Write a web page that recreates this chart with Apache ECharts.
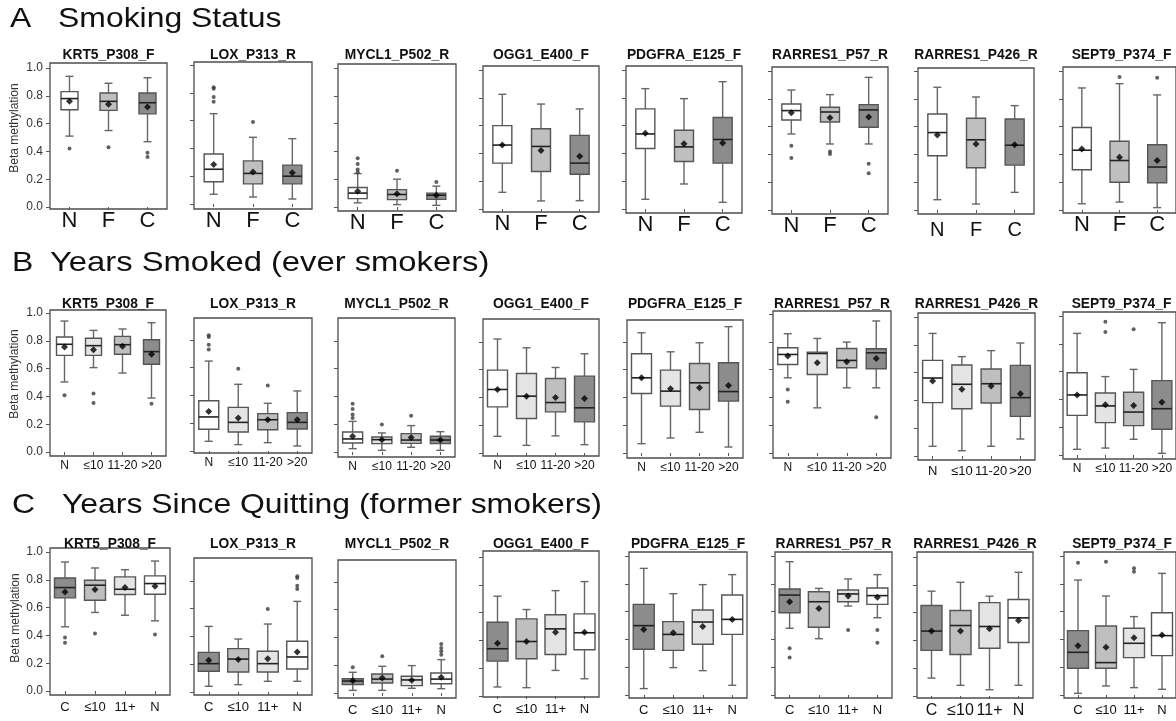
<!DOCTYPE html>
<html><head><meta charset="utf-8">
<script src="https://cdn.jsdelivr.net/npm/echarts@6/dist/echarts.min.js"></script>
<style>html,body{margin:0;padding:0;background:#fff}#c{width:1176px;height:721px}</style>
</head><body><div id="c"></div>
<script>
// ---------------- DATA ----------------
const genes = ['KRT5_P308_F','LOX_P313_R','MYCL1_P502_R','OGG1_E400_F','PDGFRA_E125_F','RARRES1_P57_R','RARRES1_P426_R','SEPT9_P374_F'];
const yTicks = [0, 0.2, 0.4, 0.6, 0.8, 1.0];

// A: Smoking Status
const catsA = ['N','F','C'];
// per gene, per category: [lower whisker, Q1, median, Q3, upper whisker]
const statsA = [
  [[0.51,0.70,0.78,0.83,0.94],[0.55,0.695,0.76,0.82,0.89],[0.47,0.67,0.75,0.82,0.93]],
  [[0.07,0.16,0.25,0.36,0.65],[0.05,0.145,0.22,0.31,0.48],[0.036,0.145,0.20,0.28,0.47]],
  [[0.03,0.06,0.10,0.14,0.24],[0.017,0.053,0.09,0.125,0.20],[0.012,0.055,0.085,0.10,0.15]],
  [[0.12,0.33,0.46,0.60,0.825],[0.058,0.27,0.45,0.577,0.755],[0.06,0.25,0.33,0.53,0.72]],
  [[0.07,0.435,0.54,0.72,0.866],[0.18,0.342,0.447,0.567,0.794],[0.048,0.33,0.50,0.658,0.916]],
  [[0.547,0.647,0.715,0.763,0.863],[0.475,0.633,0.705,0.739,0.83],[0.475,0.595,0.72,0.758,0.954]],
  [[0.074,0.39,0.557,0.691,0.883],[0.043,0.304,0.505,0.66,0.813],[0.127,0.323,0.466,0.655,0.751]],
  [[0.045,0.29,0.43,0.593,0.878],[0.057,0.20,0.356,0.495,0.909],[0.017,0.196,0.309,0.469,0.828]]
];
const meansA = [
  [0.76,0.74,0.72],[0.285,0.23,0.225],[0.113,0.096,0.084],[0.46,0.42,0.38],
  [0.545,0.469,0.474],[0.70,0.664,0.669],[0.54,0.474,0.469],[0.438,0.38,0.356]
];
const outliersA = [
  [[0.42],[0.43],[0.39,0.36]],
  [[0.84,0.83,0.77,0.735],[0.59],[]],
  [[0.35,0.31,0.27,0.25],[0.26],[0.18]],
  [[],[],[]],
  [[],[],[]],
  [[0.463,0.374],[0.42,0.403],[0.333,0.264]],
  [[],[],[]],
  [[],[0.957],[0.952]]
];

// B: Years Smoked (ever smokers)
const catsB = ['N','≤10','11-20','>20'];
const statsB = [
  [[0.504,0.695,0.775,0.827,0.942],[0.607,0.695,0.765,0.818,0.875],[0.568,0.703,0.772,0.832,0.885],[0.388,0.631,0.722,0.808,0.93]],
  [[0.07,0.156,0.245,0.362,0.647],[0.046,0.137,0.206,0.314,0.48],[0.06,0.153,0.225,0.269,0.343],[0.036,0.158,0.206,0.276,0.432]],
  [[0.024,0.065,0.094,0.144,0.22],[0.012,0.06,0.089,0.108,0.137],[0.034,0.062,0.086,0.132,0.19],[0.012,0.06,0.086,0.113,0.146]],
  [[0.12,0.332,0.457,0.596,0.82],[0.055,0.248,0.409,0.572,0.757],[0.123,0.296,0.363,0.536,0.615],[0.06,0.224,0.325,0.553,0.714]],
  [[0.067,0.428,0.541,0.714,0.865],[0.108,0.337,0.445,0.596,0.728],[0.149,0.313,0.505,0.644,0.793],[0.043,0.373,0.442,0.649,0.909]],
  [[0.541,0.637,0.709,0.757,0.858],[0.325,0.565,0.716,0.726,0.824],[0.469,0.613,0.666,0.752,0.798],[0.469,0.606,0.721,0.75,0.95]],
  [[0.07,0.384,0.561,0.688,0.882],[0.038,0.34,0.516,0.655,0.715],[0.07,0.381,0.52,0.626,0.758],[0.122,0.285,0.42,0.652,0.813]],
  [[0.041,0.285,0.432,0.592,0.875],[0.05,0.233,0.353,0.446,0.564],[0.113,0.211,0.309,0.451,0.616],[0.012,0.185,0.333,0.535,0.952]]
];
const meansB = [
  [0.755,0.736,0.76,0.703],[0.285,0.237,0.225,0.225],[0.113,0.089,0.105,0.086],[0.457,0.409,0.40,0.392],
  [0.541,0.462,0.469,0.486],[0.697,0.649,0.656,0.68],[0.54,0.48,0.504,0.448],[0.432,0.362,0.357,0.379]
];
const outliersB = [
  [[0.408],[0.42,0.353],[],[0.348]],
  [[0.832,0.82,0.765,0.731],[0.592],[0.472],[]],
  [[0.348,0.31,0.27,0.245],[0.197],[0.26],[]],
  [[],[],[],[]],
  [[],[],[],[]],
  [[0.457,0.368],[],[],[0.257]],
  [[],[],[],[]],
  [[],[0.959,0.885],[0.904],[]]
];

// C: Years Since Quitting (former smokers)
const catsC = ['C','≤10','11+','N'];
const statsC = [
  [[0.462,0.67,0.744,0.813,0.928],[0.565,0.653,0.761,0.797,0.885],[0.545,0.694,0.732,0.821,0.873],[0.505,0.696,0.773,0.828,0.935]],
  [[0.041,0.149,0.204,0.285,0.472],[0.053,0.144,0.237,0.312,0.381],[0.077,0.144,0.204,0.293,0.489],[0.077,0.165,0.252,0.365,0.652]],
  [[0.019,0.06,0.086,0.103,0.149],[0.019,0.072,0.10,0.137,0.192],[0.034,0.053,0.094,0.12,0.197],[0.031,0.067,0.10,0.144,0.24]],
  [[0.065,0.251,0.34,0.531,0.718],[0.06,0.268,0.392,0.555,0.622],[0.184,0.299,0.483,0.584,0.758],[0.124,0.333,0.455,0.591,0.823]],
  [[0.046,0.329,0.499,0.652,0.911],[0.197,0.321,0.436,0.528,0.729],[0.175,0.365,0.525,0.612,0.794],[0.07,0.436,0.544,0.719,0.866]],
  [[0.48,0.592,0.719,0.763,0.959],[0.405,0.487,0.671,0.743,0.767],[0.64,0.671,0.727,0.755,0.835],[0.556,0.652,0.715,0.77,0.866]],
  [[0.129,0.328,0.467,0.651,0.754],[0.077,0.299,0.507,0.615,0.818],[0.045,0.344,0.50,0.672,0.718],[0.077,0.385,0.562,0.694,0.89]],
  [[0.012,0.192,0.307,0.463,0.827],[0.065,0.192,0.233,0.496,0.712],[0.053,0.269,0.372,0.48,0.564],[0.041,0.283,0.427,0.592,0.875]]
];
const meansC = [
  [0.713,0.73,0.744,0.754],[0.228,0.233,0.24,0.288],[0.089,0.108,0.091,0.113],[0.38,0.392,0.459,0.459],
  [0.472,0.448,0.492,0.544],[0.671,0.623,0.712,0.703],[0.467,0.467,0.483,0.543],[0.355,0.343,0.412,0.432]
];
const outliersC = [
  [[0.385,0.347],[0.414],[],[0.407]],
  [[],[],[0.597],[0.832,0.82,0.765,0.741]],
  [[0.185],[0.264],[],[0.353,0.324,0.30,0.276]],
  [[],[],[],[]],
  [[],[],[],[]],
  [[0.336,0.269],[],[0.468],[0.468,0.376]],
  [[],[],[],[]],
  [[0.952],[0.959],[0.911,0.887],[]]
];

// ---------------- LAYOUT / STYLE ----------------
const FONT = '"Liberation Sans", Arial, sans-serif';
const UNIT = 139; // px per 1.0 of beta
const rows = [
  { letter:'A', heading:'Smoking Status', letterX:10, headX:58, headY:19, headScale:1.14, titleY:55, nameY:128, nameX:15,
    cats:catsA, stats:statsA, means:meansA, outs:outliersA,
    fills:['#ffffff','#bfbfbf','#8c8c8c'],
    frames:[[50,167,63,209],[194,312,62,209],[338,456,64,211],[483,599,66,212],[626,742,66,213],[772,888,67,214],[918,1034,68,214],[1063,1180,67,213]],
    zeros:[207,204,207,209,209,210,210,210],
    lab:{size:22, margin:1}, labWide:{size:20, margin:6}, boxW:19, boxW0:17 },
  { letter:'B', heading:'Years Smoked (ever smokers)', letterX:12, headX:50, headY:263, headScale:1.17, titleY:304, nameY:374, nameX:15,
    cats:catsB, stats:statsB, means:meansB, outs:outliersB,
    fills:['#ffffff','#e4e4e4','#bfbfbf','#8c8c8c'],
    frames:[[50,166,310,456],[194,312,318,453],[338,455,318,457],[483,599,319,456],[627,743,320,458],[773,891,311,458],[918,1035,313,460],[1063,1180,312,459]],
    zeros:[452,451,452,453,453,453,456,455],
    lab:{size:12, margin:4}, labWide:{size:13, margin:5}, boxW:20, boxW0:16 },
  { letter:'C', heading:'Years Since Quitting (former smokers)', letterX:12, headX:62, headY:505, headScale:1.14, titleY:544, nameY:618, nameX:16,
    cats:catsC, stats:statsC, means:meansC, outs:outliersC,
    fills:['#8c8c8c','#bfbfbf','#e4e4e4','#ffffff'],
    frames:[[50,170,548,695],[194,312,558,695],[338,456,560,698],[483,599,551,697],[629,747,552,698],[775,892,552,698],[917,1033,552,698],[1064,1180,552,698]],
    zeros:[691,692,693,696,695,695,696,695],
    lab:{size:13, margin:6}, labWide:{size:16, margin:5}, boxW:21, boxW0:21 }
];

function makeRender(fills, boxW){
  return function(params, api){
    const k = params.dataIndex;
    const lo = api.coord([k, api.value(1)]);
    const q1 = api.coord([k, api.value(2)]);
    const md = api.coord([k, api.value(3)]);
    const q3 = api.coord([k, api.value(4)]);
    const hi = api.coord([k, api.value(5)]);
    const x = lo[0], hw = boxW/2, cw = 4;
    const wl = {stroke:'#666', lineWidth:1.4};
    return {type:'group', children:[
      {type:'line', shape:{x1:x,y1:hi[1],x2:x,y2:q3[1]}, style:wl},
      {type:'line', shape:{x1:x,y1:q1[1],x2:x,y2:lo[1]}, style:wl},
      {type:'line', shape:{x1:x-cw,y1:hi[1],x2:x+cw,y2:hi[1]}, style:wl},
      {type:'line', shape:{x1:x-cw,y1:lo[1],x2:x+cw,y2:lo[1]}, style:wl},
      {type:'rect', shape:{x:x-hw,y:q3[1],width:boxW,height:q1[1]-q3[1]}, style:{fill:fills[k], stroke:'#555', lineWidth:1.4}},
      {type:'line', shape:{x1:x-hw,y1:md[1],x2:x+hw,y2:md[1]}, style:{stroke:'#222', lineWidth:1.6}}
    ]};
  };
}

const grid = [], xAxis = [], yAxis = [], series = [], graphic = [];
let gi = 0;
rows.forEach((row) => {
  graphic.push({type:'text', x:row.letterX, y:row.headY, scaleX:1.14,
    style:{text:row.letter, font:'28px '+FONT, fill:'#111', textVerticalAlign:'middle'}});
  graphic.push({type:'text', x:row.headX, y:row.headY, scaleX:row.headScale,
    style:{text:row.heading, font:'28px '+FONT, fill:'#111', textVerticalAlign:'middle'}});
  graphic.push({type:'text', x:row.nameX, y:row.nameY, rotation:Math.PI/2,
    style:{text:'Beta methylation', font:'12px '+FONT, fill:'#333', textAlign:'center', textVerticalAlign:'middle'}});
  genes.forEach((g, p) => {
    const [x0, x1, top, bottom] = row.frames[p];
    const y0 = row.zeros[p], y1 = y0 - UNIT;
    graphic.push({type:'text', x:(x0+x1)/2, y:row.titleY,
      style:{text:g, font:'bold 13.8px '+FONT, fill:'#111', textAlign:'center', textVerticalAlign:'middle'}});
    grid.push({left:x0, top:top, width:x1-x0, height:bottom-top, show:true,
      borderColor:'#4d4d4d', borderWidth:1.3, backgroundColor:'#fff', containLabel:false});
    const lab = (p === 6) ? row.labWide : row.lab;
    xAxis.push({type:'category', gridIndex:gi, data:row.cats, boundaryGap:true,
      axisLine:{show:false}, splitLine:{show:false},
      axisTick:{show:true, alignWithLabel:true, length:3, lineStyle:{color:'#555', width:1}},
      axisLabel:{interval:0, fontSize:lab.size, margin:lab.margin, color:'#111', fontFamily:FONT, hideOverlap:false}});
    yAxis.push({type:'value', gridIndex:gi,
      min: -(bottom - y0)/UNIT, max: 1 + (y1 - top)/UNIT,
      axisLine:{show:false}, splitLine:{show:false},
      axisTick:{show:true, length:4, customValues:yTicks, lineStyle:{color:'#555', width:1}},
      axisLabel:{show:p===0, customValues:yTicks, margin:7, fontSize:12, color:'#333', fontFamily:FONT,
        formatter:(v)=>Number(v).toFixed(1)}});
    const bw = p === 0 ? row.boxW0 : row.boxW;
    series.push({type:'custom', xAxisIndex:gi, yAxisIndex:gi, renderItem:makeRender(row.fills, bw),
      encode:{x:0, y:[1,2,3,4,5]}, z:2,
      data: row.stats[p].map((s,k)=>[k].concat(s))});
    series.push({type:'scatter', xAxisIndex:gi, yAxisIndex:gi, symbol:'diamond', symbolSize:7, z:5,
      itemStyle:{color:'#000'}, data: row.means[p].map((m,k)=>[k,m])});
    const od = [];
    row.outs[p].forEach((arr,k)=>arr.forEach(v=>od.push([k,v])));
    series.push({type:'scatter', xAxisIndex:gi, yAxisIndex:gi, symbol:'circle', symbolSize:4, z:4,
      itemStyle:{color:'#3a3a3a'}, data: od});
    gi++;
  });
});

const chart = echarts.init(document.getElementById('c'), null, {renderer:'canvas'});
chart.setOption({animation:false, backgroundColor:'#fff', grid, xAxis, yAxis, series, graphic});
</script></body></html>
